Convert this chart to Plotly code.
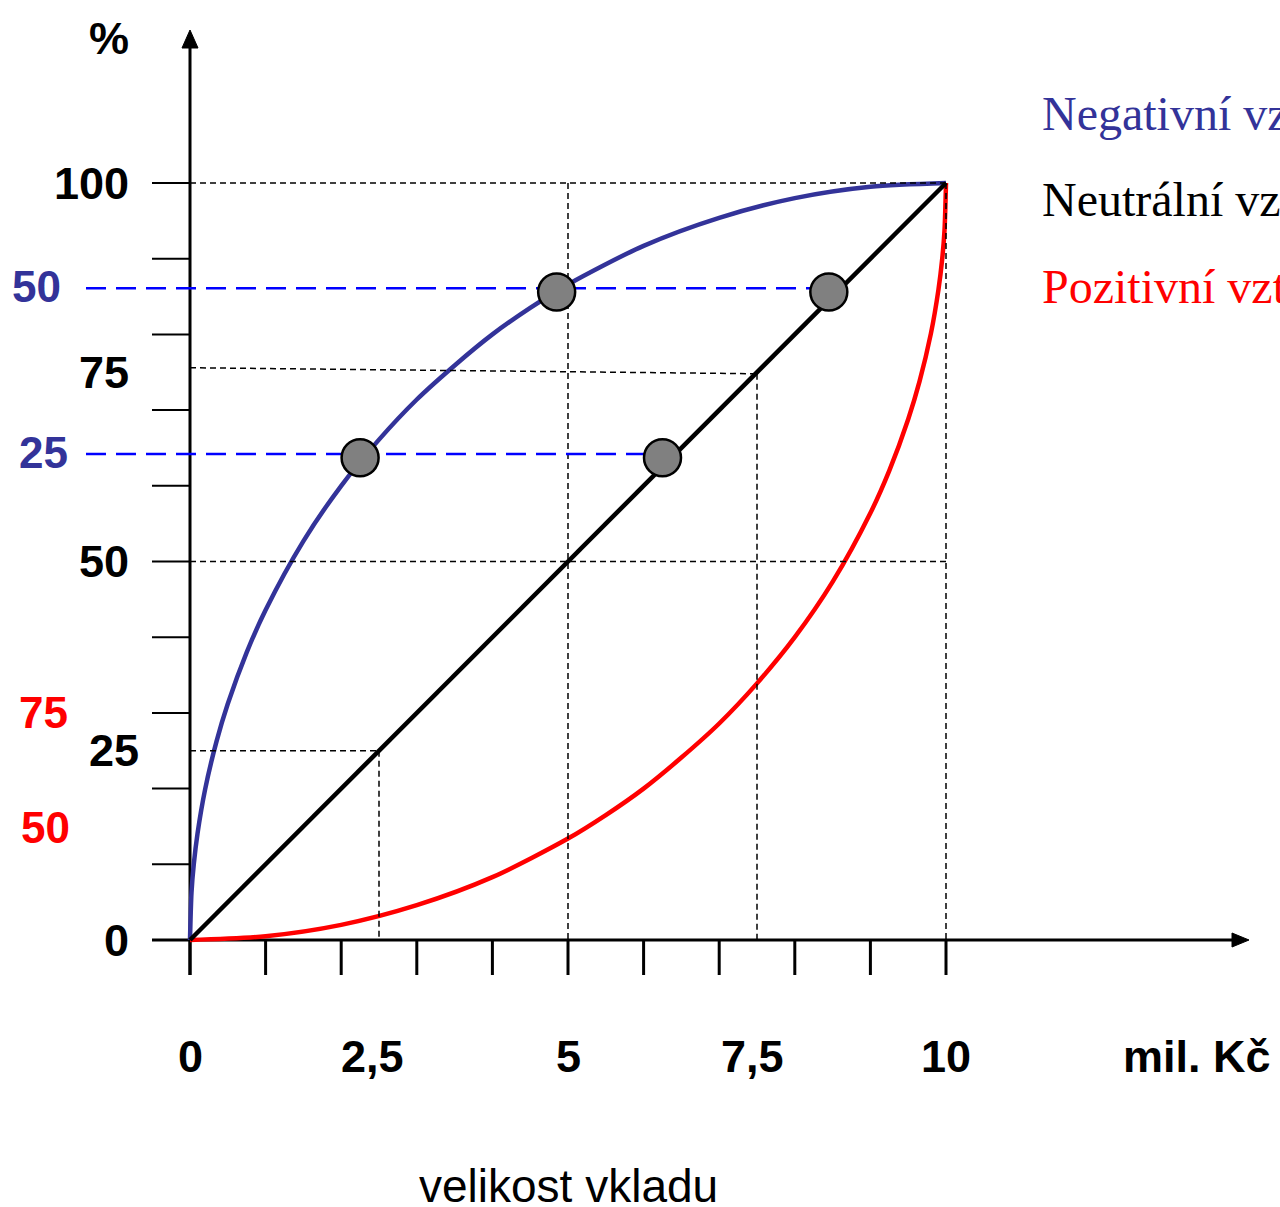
import plotly.graph_objects as go

# ---- data ----
neg_x = [0, 0.02, 0.05, 0.1, 0.2, 0.35, 0.5, 0.75, 1, 1.5, 2, 2.5, 3, 3.5, 4, 4.5, 5, 6, 7, 8, 9, 10]
neg_y = [0, 6.3, 10.0, 14.1, 19.9, 26.2, 31.2, 38.0, 43.6, 52.7, 60.0, 66.1, 71.4, 75.9, 80.0, 83.5, 86.6, 91.7, 95.4, 98.0, 99.5, 100]

pos_x = [0, 1, 2, 3, 4, 5, 5.5, 6, 6.5, 7, 7.5, 8, 8.5, 9, 9.25, 9.5, 9.65, 9.8, 9.9, 9.95, 9.98, 10]
pos_y = [0, 0.5, 2.0, 4.6, 8.3, 13.4, 16.5, 20.0, 24.1, 28.6, 33.9, 40.0, 47.3, 56.4, 62.0, 68.8, 73.8, 80.1, 85.9, 90.0, 93.7, 100]

neu_x = [0, 10]
neu_y = [0, 100]

point_x = [4.85, 8.45, 2.25, 6.25]
point_y = [85.6, 85.6, 63.7, 63.7]

blue_guide_y = [86.1, 64.2]
blue_guide_x_end = [8.45, 6.25]
blue_guide_labels = ["50", "25"]

red_label_y = [30.1, 14.9]
red_labels = ["75", "50"]

x_tick_vals = [0, 1, 2, 3, 4, 5, 6, 7, 8, 9, 10]
y_tick_vals = [0, 10, 20, 30, 40, 50, 60, 70, 80, 90, 100]

x_label_vals = [0, 2.5, 5, 7.5, 10]
x_label_text = ["0", "2,5", "5", "7,5", "10"]
y_label_vals = [100, 75, 50, 25, 0]
y_label_text = ["100", "75", "50", "25", "0"]

# black dashed guide segments (x0, y0, x1, y1)
guide_segments = [
    (0, 100, 10, 100),
    (5, 100, 5, 0),
    (10, 100, 10, 0),
    (0, 50, 10, 50),
    (0, 75.6, 7.5, 74.8),
    (7.5, 74.8, 7.5, 0),
    (0, 25, 2.5, 25),
    (2.5, 25, 2.5, 0),
]

legend_text = ["Negativní vztah k riziku", "Neutrální vztah k riziku", "Pozitivní vztah k riziku"]
legend_y = [109.2, 97.8, 86.3]

# ---- geometry (pixel mapping) ----
W, H = 1280, 1207
PX0, PX10 = 190, 946
PY0, PY100 = 940, 183
SX = (PX10 - PX0) / 10.0
SY = (PY0 - PY100) / 100.0


def px2x(px):
    return (px - PX0) / SX


def py2y(py):
    return (PY0 - py) / SY


BLUE = "#333399"
DBLUE = "#0000FF"
RED = "#FF0000"
SANS = "Liberation Sans, Arial, sans-serif"
SERIF = "Liberation Serif, Times New Roman, serif"

fig = go.Figure()

# curves
fig.add_trace(go.Scatter(x=neg_x, y=neg_y, mode="lines",
                         line=dict(color=BLUE, width=4.5, shape="spline", smoothing=0.8),
                         hoverinfo="skip"))
fig.add_trace(go.Scatter(x=pos_x, y=pos_y, mode="lines",
                         line=dict(color=RED, width=4.5, shape="spline", smoothing=0.8),
                         hoverinfo="skip"))
fig.add_trace(go.Scatter(x=neu_x, y=neu_y, mode="lines",
                         line=dict(color="black", width=4.5), hoverinfo="skip"))

# black dashed guides
for (x0, y0, x1, y1) in guide_segments:
    fig.add_trace(go.Scatter(x=[x0, x1], y=[y0, y1], mode="lines",
                             line=dict(color="black", width=1.5, dash="6px,4px"),
                             hoverinfo="skip"))

# blue dashed guides
for gy, gx1 in zip(blue_guide_y, blue_guide_x_end):
    fig.add_trace(go.Scatter(x=[px2x(86), gx1], y=[gy, gy], mode="lines",
                             line=dict(color=DBLUE, width=2.5, dash="20px,10px"),
                             hoverinfo="skip"))

# points
fig.add_trace(go.Scatter(x=point_x, y=point_y, mode="markers",
                         marker=dict(size=37, color="#808080",
                                     line=dict(color="black", width=2.5)),
                         hoverinfo="skip"))

shapes = []
# axes
shapes.append(dict(type="line", xref="x", yref="y", x0=px2x(152), x1=px2x(1236), y0=0, y1=0,
                   line=dict(color="black", width=3), layer="below"))
shapes.append(dict(type="line", xref="x", yref="y", x0=0, x1=0, y0=py2y(975), y1=py2y(44),
                   line=dict(color="black", width=3), layer="below"))
# arrow heads
shapes.append(dict(type="path", xref="x", yref="y",
                   path=f"M {px2x(1249)},0 L {px2x(1232)},{7/SY} L {px2x(1232)},{-7/SY} Z",
                   fillcolor="black", line=dict(color="black", width=1)))
shapes.append(dict(type="path", xref="x", yref="y",
                   path=f"M 0,{py2y(30)} L {8/SX},{py2y(48)} L {-8/SX},{py2y(48)} Z",
                   fillcolor="black", line=dict(color="black", width=1)))
# ticks
for v in x_tick_vals:
    shapes.append(dict(type="line", xref="x", yref="y", x0=v, x1=v, y0=0, y1=-35 / SY,
                       line=dict(color="black", width=3), layer="below"))
for v in y_tick_vals:
    shapes.append(dict(type="line", xref="x", yref="y", x0=0, x1=-38 / SX, y0=v, y1=v,
                       line=dict(color="black", width=2), layer="below"))

annotations = []
# x labels
x_label_shift = [0, -7, 0, -5, 0]
for v, t, s in zip(x_label_vals, x_label_text, x_label_shift):
    annotations.append(dict(x=v, y=0, xref="x", yref="y", text=t, showarrow=False,
                            xanchor="center", yanchor="middle", yshift=-(1056 - PY0), xshift=s,
                            font=dict(family=SANS, size=45, color="black", weight="bold")))
annotations.append(dict(x=px2x(1273), y=0, xref="x", yref="y", text="mil. Kč", showarrow=False,
                        xanchor="right", yanchor="middle", yshift=-(1056 - PY0),
                        font=dict(family=SANS, size=45, color="black", weight="bold")))
annotations.append(dict(x=5, y=0, xref="x", yref="y", text="velikost vkladu", showarrow=False,
                        xanchor="center", yanchor="middle", yshift=-(1186 - PY0),
                        font=dict(family=SANS, size=46, color="black")))
# y labels
y_label_right = [131, 131, 131, 141, 131]
for v, t, r in zip(y_label_vals, y_label_text, y_label_right):
    annotations.append(dict(x=px2x(r), y=v, xref="x", yref="y", text=t, showarrow=False,
                            xanchor="right", yanchor="middle",
                            font=dict(family=SANS, size=45, color="black", weight="bold")))
annotations.append(dict(x=px2x(109), y=py2y(38), xref="x", yref="y", text="%", showarrow=False,
                        xanchor="center", yanchor="middle",
                        font=dict(family=SANS, size=45, color="black", weight="bold")))
# blue labels
for v, t, r in zip(blue_guide_y, blue_guide_labels, [63, 70]):
    annotations.append(dict(x=px2x(r), y=v, xref="x", yref="y", text=t, showarrow=False,
                            xanchor="right", yanchor="middle", yshift=2,
                            font=dict(family=SANS, size=44, color=BLUE, weight="bold")))
# red labels
for v, t, r in zip(red_label_y, red_labels, [70, 72]):
    annotations.append(dict(x=px2x(r), y=v, xref="x", yref="y", text=t, showarrow=False,
                            xanchor="right", yanchor="middle",
                            font=dict(family=SANS, size=44, color=RED, weight="bold")))
# legend texts
for t, yv, c in zip(legend_text, legend_y, [BLUE, "black", RED]):
    annotations.append(dict(x=px2x(1040), y=yv, xref="x", yref="y", text=t, showarrow=False,
                            xanchor="left", yanchor="middle",
                            font=dict(family=SERIF, size=48, color=c)))

fig.update_layout(
    width=W, height=H,
    margin=dict(l=0, r=0, t=0, b=0),
    paper_bgcolor="white", plot_bgcolor="white",
    showlegend=False,
    xaxis=dict(range=[px2x(0), px2x(W)], visible=False, fixedrange=True),
    yaxis=dict(range=[py2y(H), py2y(0)], visible=False, fixedrange=True),
    shapes=shapes,
    annotations=annotations,
)

fig.write_html("out.html",
               config={"displayModeBar": False},
               post_script="document.body.style.margin='0';document.body.style.overflow='hidden';")
